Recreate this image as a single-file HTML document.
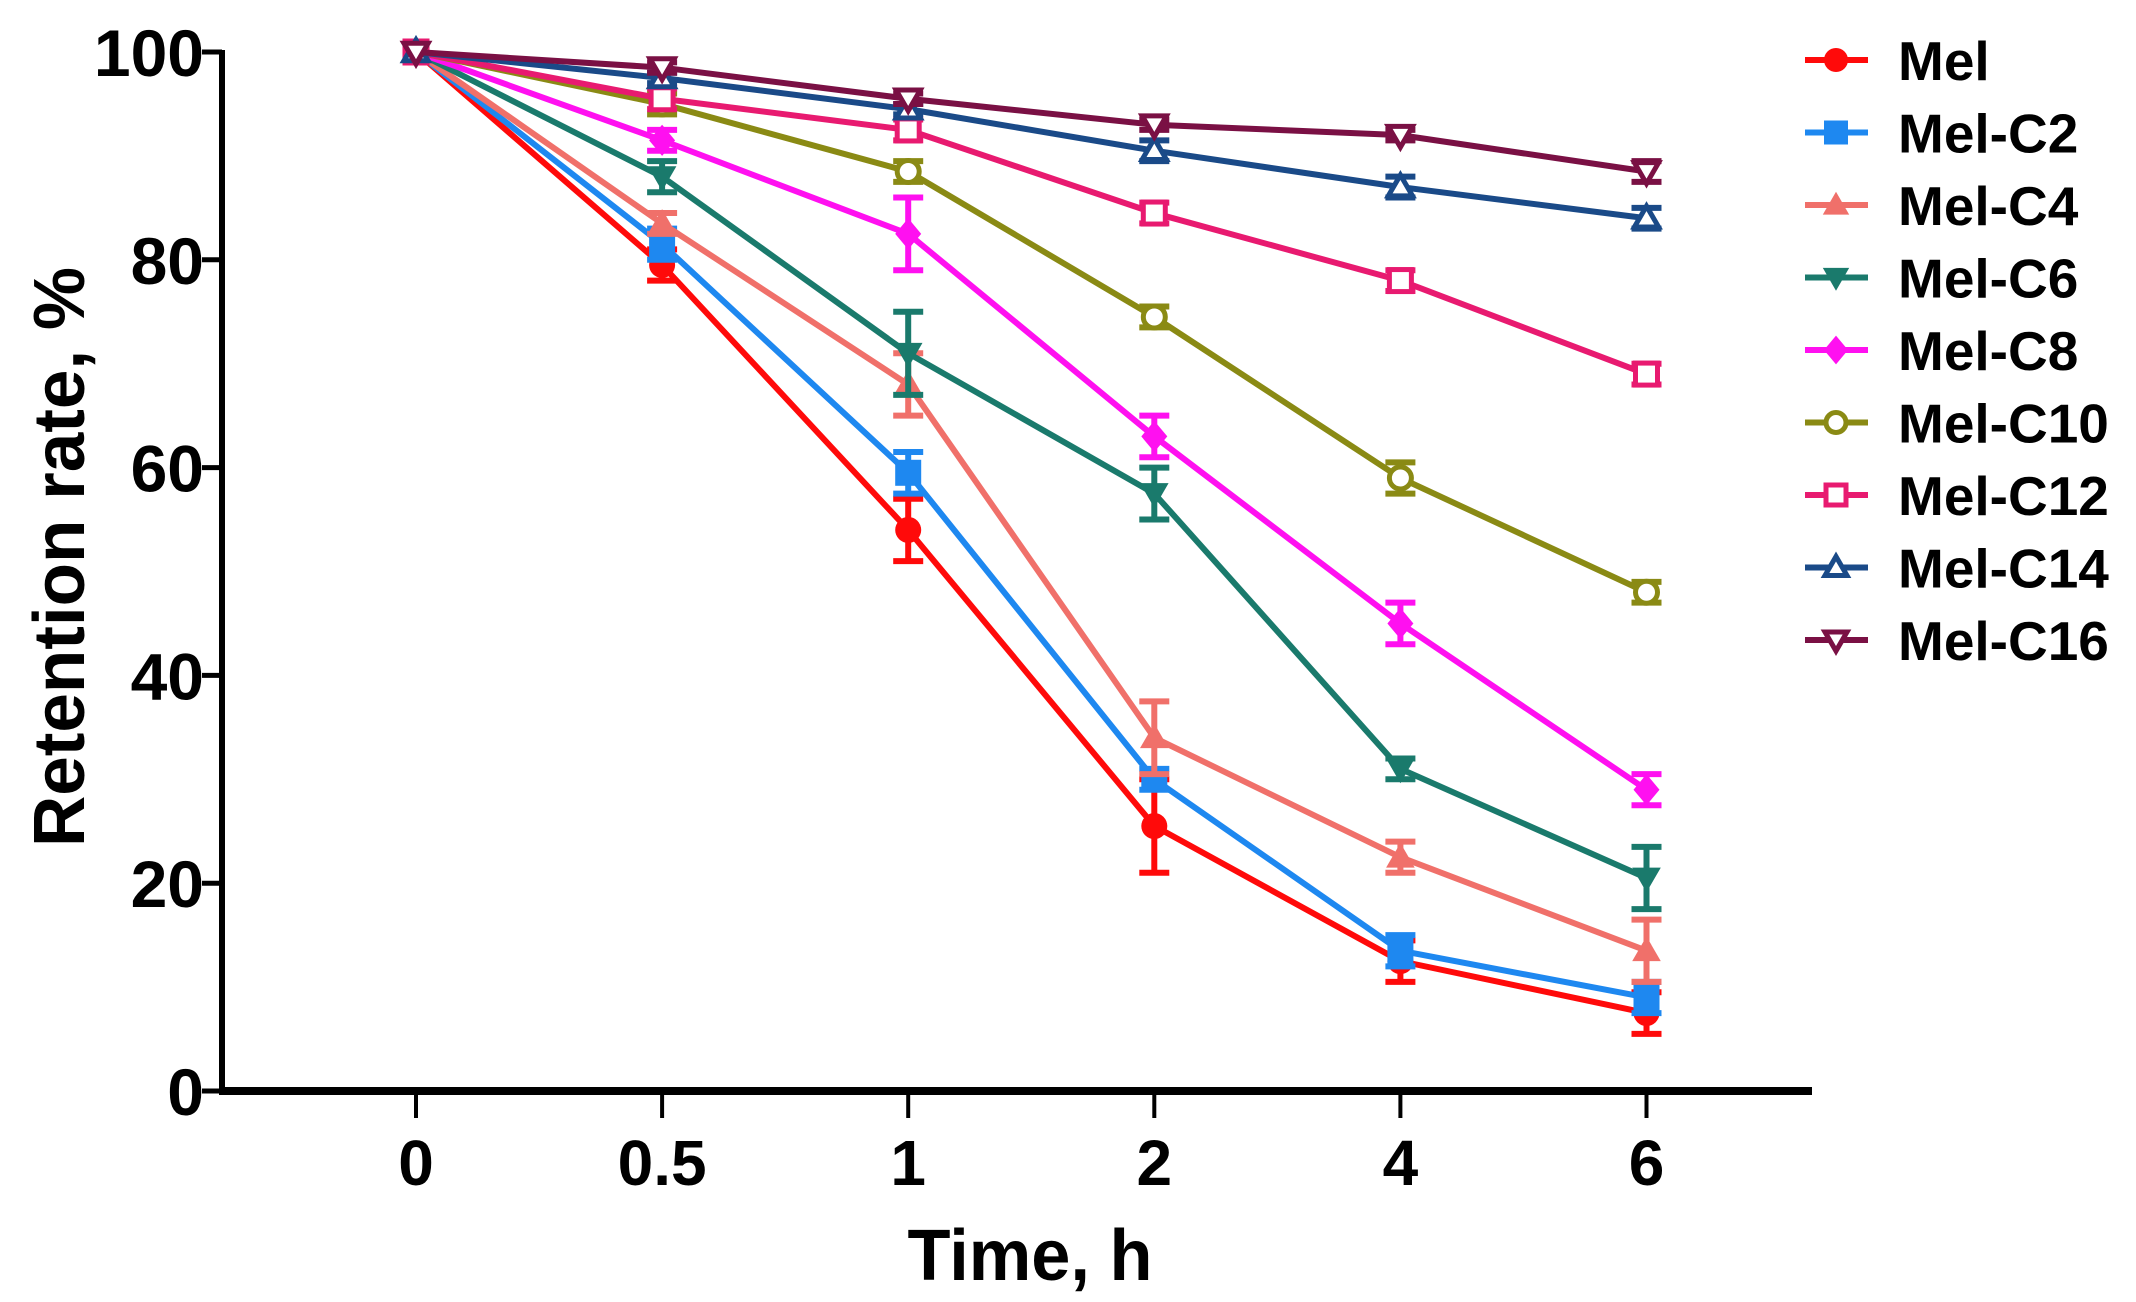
<!DOCTYPE html>
<html><head><meta charset="utf-8"><style>
html,body{margin:0;padding:0;background:#fff;}
svg{display:block;}
text{font-family:"Liberation Sans",Arial,sans-serif;font-weight:bold;fill:#000;}
</style></head><body>
<svg id="chart" width="2136" height="1302" viewBox="0 0 2136 1302" xmlns="http://www.w3.org/2000/svg">
<g id="axes"></g>
<g id="series"></g>
<g id="legend"></g>
</svg>
<script>
const categories = ["0","0.5","1","2","4","6"];
const yTicks = [0,20,40,60,80,100];
const seriesNames = ["Mel","Mel-C2","Mel-C4","Mel-C6","Mel-C8","Mel-C10","Mel-C12","Mel-C14","Mel-C16"];
const melValues = [100,79.5,54,25.5,12.5,7.5];
const melErr = [0,1.5,3,4.5,2,2];
const c2Values = [100,81.5,59.5,30,13.5,9];
const c2Err = [0,1.5,2,1,1.5,1.5];
const c4Values = [100,83.5,68,34,22.5,13.5];
const c4Err = [0,1,3,3.5,1.5,3];
const c6Values = [100,88,71,57.5,31,20.5];
const c6Err = [0,1.5,4,2.5,1,3];
const c8Values = [100,91.5,82.5,63,45,29];
const c8Err = [0,1,3.5,2,2,1.5];
const c10Values = [100,95,88.5,74.5,59,48];
const c10Err = [0,1,1,1,1.5,1];
const c12Values = [100,95.5,92.5,84.5,78,69];
const c12Err = [0,1,1,1,1,1];
const c14Values = [100,97.5,94.5,90.5,87,84];
const c14Err = [0,0.5,0.5,1,1,1];
const c16Values = [100,98.5,95.5,93,92,88.5];
const c16Err = [0,0.5,0.5,0.5,0.5,1];

const NS="http://www.w3.org/2000/svg";
const X0=416, XSTEP=246.1, YB=1091, YT=52;
function xPos(i){return X0+i*XSTEP;}
function yPos(v){return YB-(v/100)*(YB-YT);}
function mk(tag,attrs,parent){const e=document.createElementNS(NS,tag);for(const k in attrs)e.setAttribute(k,attrs[k]);parent.appendChild(e);return e;}

const styles=[
 {c:"#ff0a0a",m:"circle",f:true},
 {c:"#1e88f0",m:"square",f:true},
 {c:"#f0706a",m:"tri",f:true},
 {c:"#1a7a6c",m:"tridown",f:true},
 {c:"#ff10f0",m:"diamond",f:true},
 {c:"#8a8a14",m:"circle",f:false},
 {c:"#e81a70",m:"square",f:false},
 {c:"#1a4a88",m:"tri",f:false},
 {c:"#7a1044",m:"tridown",f:false}
];
const allVals=[melValues,c2Values,c4Values,c6Values,c8Values,c10Values,c12Values,c14Values,c16Values];
const allErr=[melErr,c2Err,c4Err,c6Err,c8Err,c10Err,c12Err,c14Err,c16Err];

function marker(g,type,cx,cy,col,fill,r){
 let e;
 const sw=fill?0:5, fc=fill?col:"#fff";
 if(type==="circle") e=mk("circle",{cx:cx,cy:cy,r:r},g);
 else if(type==="square") e=mk("rect",{x:cx-r,y:cy-r,width:2*r,height:2*r},g);
 else if(type==="tri") e=mk("polygon",{points:`${cx},${cy-r*1.1} ${cx-r*1.1},${cy+r*0.8} ${cx+r*1.1},${cy+r*0.8}`},g);
 else if(type==="tridown") e=mk("polygon",{points:`${cx},${cy+r*1.1} ${cx-r*1.1},${cy-r*0.8} ${cx+r*1.1},${cy-r*0.8}`},g);
 else e=mk("polygon",{points:`${cx},${cy-r*1.2} ${cx-r},${cy} ${cx},${cy+r*1.2} ${cx+r},${cy}`},g);
 e.setAttribute("fill",fc);e.setAttribute("stroke",col);e.setAttribute("stroke-width",sw);
 
 
 return e;
}

// axes
const AXX=222;
const ax=document.getElementById("axes");
let l=mk("line",{x1:AXX,y1:50,x2:AXX,y2:YB+3,stroke:"#000","stroke-width":6},ax);


l=mk("line",{x1:AXX-3,y1:YB,x2:1812,y2:YB,stroke:"#000","stroke-width":8},ax);


yTicks.forEach(v=>{
 const y=yPos(v);
 const t=mk("line",{x1:AXX-20,y1:y,x2:AXX,y2:y,stroke:"#000","stroke-width":5},ax);
 
 
 const tx=mk("text",{x:AXX-18,y:y+24,"font-size":66,"text-anchor":"end"},ax);
 tx.textContent=v;
 
 
});
categories.forEach((c,i)=>{
 const x=xPos(i);
 const t=mk("line",{x1:x,y1:YB,x2:x,y2:1118,stroke:"#000","stroke-width":4},ax);
 
 
 const tx=mk("text",{x:x,y:1185,"font-size":64,"text-anchor":"middle"},ax);
 tx.textContent=c;
 
 
});
let tt=mk("text",{x:1030,y:1280,"font-size":72,"text-anchor":"middle",textLength:245,lengthAdjust:"spacingAndGlyphs"},ax);
tt.textContent="Time, h";


tt=mk("text",{x:0,y:0,"font-size":72,"text-anchor":"middle",transform:"translate(84,557) rotate(-90)",textLength:580,lengthAdjust:"spacingAndGlyphs"},ax);
tt.textContent="Retention rate, %";



// series
const sg=document.getElementById("series");
for(let s=0;s<allVals.length;s++){
 const st=styles[s], vals=allVals[s], errs=allErr[s];
 const g=mk("g",{},sg);
 
 
 const pts=vals.map((v,i)=>xPos(i)+","+yPos(v)).join(" ");
 const pl=mk("polyline",{points:pts,fill:"none",stroke:st.c,"stroke-width":6,"stroke-linejoin":"round"},g);
 
 
 vals.forEach((v,i)=>{
  const x=xPos(i), e=errs[i];
  if(e>0){
   const eb=mk("path",{d:`M${x},${yPos(v+e)}V${yPos(v-e)}M${x-15},${yPos(v+e)}H${x+15}M${x-15},${yPos(v-e)}H${x+15}`,stroke:st.c,"stroke-width":6,fill:"none"},g);
   
   
  }
  marker(g,st.m,x,yPos(v),st.c,st.f,st.f?13:11);
 });
}

// legend
const lg=document.getElementById("legend");
seriesNames.forEach((n,i)=>{
 const y=60+i*72.5, st=styles[i];
 const g=mk("g",{},lg);
 
 
 const ln=mk("line",{x1:1805,y1:y,x2:1868,y2:y,stroke:st.c,"stroke-width":6},g);
 
 
 marker(g,st.m,1836,y,st.c,st.f,st.f?12:10);
 const tx=mk("text",{x:1898,y:y+20,"font-size":55},g);
 tx.textContent=n;
 
 
});
</script>
</body></html>
